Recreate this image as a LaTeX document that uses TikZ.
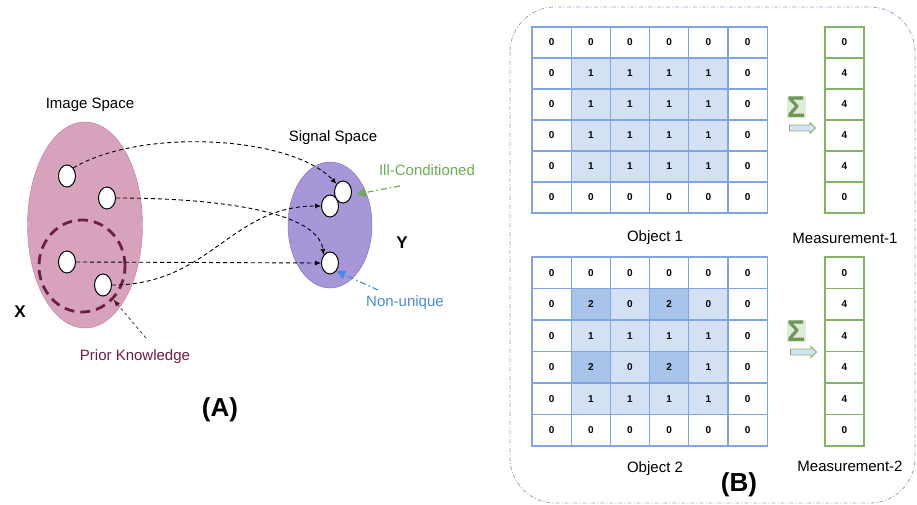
\documentclass[tikz,border=0pt]{standalone}
\usepackage{fontspec}
\setmainfont{Liberation Sans}
\usetikzlibrary{shapes.geometric,shapes.arrows,arrows.meta}
\definecolor{spacepink}{HTML}{D7A3BC}
\definecolor{pinkedge}{HTML}{C47599}
\definecolor{spacepurple}{HTML}{A796D8}
\definecolor{purpleedge}{HTML}{7D6BC2}
\definecolor{priorred}{HTML}{6E1E44}
\definecolor{illgreen}{HTML}{6BAF50}
\definecolor{nonblue}{HTML}{4A8CDF}
\definecolor{gridblue}{HTML}{7EA6E0}
\definecolor{cellW}{HTML}{FFFFFF}
\definecolor{cellL}{HTML}{D4E1F5}
\definecolor{cellD}{HTML}{A9C4EB}
\definecolor{meagreen}{HTML}{82B366}
\definecolor{framegray}{HTML}{A0A0C8}
\begin{document}
\begin{tikzpicture}[x=1pt,y=-1pt,
                every node/.style={font=\fontsize{15}{18}\selectfont},
                dot/.style={ellipse, draw, fill=white, line width=1pt, minimum width=17pt, minimum height=22pt, inner sep=0pt},
                map_edge/.style={draw=black, dash pattern=on 4pt off 3pt, line width=0.9pt, -{Latex[length=6pt,width=5pt]}},
                cell/.style={draw=gridblue, line width=1.1pt, minimum width=39.2pt, minimum height=31pt, inner sep=0pt, font=\bfseries\fontsize{10}{12}\selectfont},
                mcell/.style={cell, draw=meagreen, fill=white, minimum width=39pt}]
                \tikzset{sum_sign/.style={text=meagreen!85!black, fill=meagreen!25, inner sep=0.5pt, font=\bfseries\fontsize{30}{30}\selectfont},
                         push/.style={single arrow, draw=meagreen, fill=cellL, line width=0.8pt, minimum width=11pt, minimum height=26pt, single arrow head extend=2.5pt, inner sep=2.5pt}}
                \useasboundingbox (0,0) rectangle (917,505);
                % (A)
                \node[ellipse, draw=pinkedge, fill=spacepink, minimum width=115pt, minimum height=206pt] (imgspace) at (85,225) {};
                \node (imgtitle) at (90,105) {Image Space};
                \node[ellipse, draw=priorred, line width=2.8pt, dash pattern=on 10pt off 6pt, minimum width=86pt, minimum height=92pt] (prior) at (82,266) {};
                \node[dot] (a1) at (67,176) {};
                \node[dot] (a2) at (107,198) {};
                \node[dot] (a3) at (67,262) {};
                \node[dot] (a4) at (103,285) {};
                \node[ellipse, draw=purpleedge, fill=spacepurple, minimum width=84pt, minimum height=126pt] (sigspace) at (330,225) {};
                \node (sigtitle) at (333,138) {Signal Space};
                \node[dot] (b1) at (343,192) {};
                \node[dot] (b2) at (330,206) {};
                \node[dot] (b3) at (330,263) {};
                \draw[map_edge] (a1.north east) .. controls (140,128) and (290,135) .. (b1.north west);
                \draw[map_edge] (a2.east) .. controls (220,198) and (318,212) .. (b3.north west);
                \draw[map_edge] (a3.east) -- (b3.west);
                \draw[map_edge] (a4.east) .. controls (210,285) and (230,206) .. (b2.west);
                \node (x) at (20,312) {\bfseries\fontsize{17}{18}\selectfont X};
                \node (y) at (402,243) {\bfseries\fontsize{17}{18}\selectfont Y};
                \node[text=illgreen] (ill) at (427,170) {Ill-Conditioned};
                \node[text=nonblue] (nonuni) at (405,303) {Non-unique};
                \node[text=priorred] (pk) at (135,357) {Prior Knowledge};
                \coordinate (pktail) at (146,338);
                \coordinate (illtail) at (400,186);
                \coordinate (nontail) at (378,290);
                \draw[priorred!70!black, dash pattern=on 3pt off 3pt, line width=0.7pt, -{Latex[length=7pt,width=5pt]}] (pktail) -- (prior.south east);
                \draw[illgreen, dash pattern=on 6pt off 3pt on 1.5pt off 3pt, line width=1.2pt, shorten >=5pt, -{Triangle[length=9pt,width=9pt]}] (illtail) -- (b1.-20);
                \draw[nonblue, dash pattern=on 6pt off 3pt on 1.5pt off 3pt, line width=1.2pt, -{Triangle[length=9pt,width=9pt]}] (nontail) -- (b3.south east);
                \node (labela) at (220,410) {\bfseries\fontsize{26}{28}\selectfont (A)};
                % (B)
                \draw[framegray, dash pattern=on 4pt off 2pt on 1pt off 2pt, line width=0.8pt, rounded corners=45pt] (510,7) rectangle (915,503);
                \foreach \row [count=\r] in {{W/0,W/0,W/0,W/0,W/0,W/0},{W/0,L/1,L/1,L/1,L/1,W/0},{W/0,L/1,L/1,L/1,L/1,W/0},
                                            {W/0,L/1,L/1,L/1,L/1,W/0},{W/0,L/1,L/1,L/1,L/1,W/0},{W/0,W/0,W/0,W/0,W/0,W/0}}
                    \foreach \f/\v [count=\c] in \row
                        \node[cell, fill=cell\f] (one-\r-\c) at ({532+39.2*(\c-0.5)},{27+31*(\r-0.5)}) {\v};
                \foreach \row [count=\r] in {{W/0,W/0,W/0,W/0,W/0,W/0},{W/0,D/2,L/0,D/2,L/0,W/0},{W/0,L/1,L/1,L/1,L/1,W/0},
                                            {W/0,D/2,L/0,D/2,L/1,W/0},{W/0,L/1,L/1,L/1,L/1,W/0},{W/0,W/0,W/0,W/0,W/0,W/0}}
                    \foreach \f/\v [count=\c] in \row
                        \node[cell, fill=cell\f, minimum height=31.5pt] (two-\r-\c) at ({532+39.2*(\c-0.5)},{257+31.5*(\r-0.5)}) {\v};
                \foreach \v [count=\r] in {0,4,4,4,4,0}
                    \node[mcell] (mone-\r) at (844.5,{27+31*(\r-0.5)}) {\v};
                \foreach \v [count=\r] in {0,4,4,4,4,0}
                    \node[mcell, minimum height=31.5pt] (mtwo-\r) at (844.5,{257+31.5*(\r-0.5)}) {\v};
                \node[sum_sign] (sumone) at (796,107) {Σ};
                \node[push] (pushone) at (801,128) {};
                \node[sum_sign] (sumtwo) at (796,331) {Σ};
                \node[push] (pushtwo) at (802,352) {};
                \node (objone) at (655,238) {Object 1};
                \node (meaone) at (845,238) {Measurement-1};
                \node (objtwo) at (655,469) {Object 2};
                \node (meatwo) at (850,466) {Measurement-2};
                \node (labelb) at (739,485) {\bfseries\fontsize{26}{28}\selectfont (B)};
            \end{tikzpicture}
\end{document}
